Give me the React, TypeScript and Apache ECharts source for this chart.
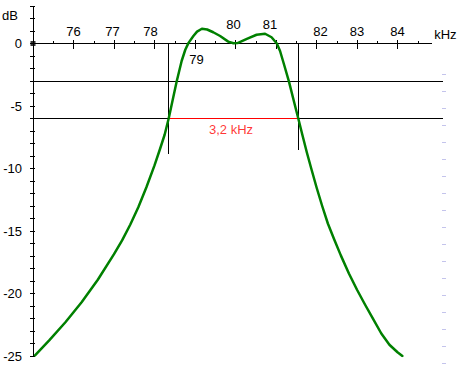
import React, { useEffect, useRef } from 'react';
import * as echarts from 'echarts';

// Filter response
const freqKHz = [
  75.05, 75.4, 75.8, 76.2, 76.6, 77.0, 77.2, 77.4, 77.6, 77.8, 78.0, 78.14, 78.25, 78.35,
  78.45, 78.55, 78.67, 78.76, 78.84, 78.96, 79.05, 79.17, 79.3, 79.45, 79.62, 79.82, 79.95,
  80.05, 80.28, 80.52, 80.73, 80.89, 81.02, 81.1, 81.2, 81.32, 81.44, 81.55, 81.65, 81.76,
  81.87, 82.0, 82.14, 82.28, 82.44, 82.6, 82.8, 83.0, 83.2, 83.4, 83.6, 83.8, 84.0, 84.12,
];
const gainDB = [
  -24.95, -23.75, -22.3, -20.7, -18.9, -16.85, -15.75, -14.5, -13.1, -11.5, -9.75, -8.4, -7.3, -6.0,
  -4.5, -3.0, -1.4, -0.5, 0.05, 0.6, 0.95, 1.18, 1.12, 0.9, 0.6, 0.15, 0.02,
  0.03, 0.37, 0.7, 0.78, 0.5, 0.0, -0.6, -1.7, -3.05, -4.6, -6.0, -7.3, -8.7,
  -10.0, -11.5, -13.0, -14.4, -15.7, -16.95, -18.4, -19.7, -20.9, -22.05, -23.2, -24.1, -24.7, -25.0,
];

const majorTicks = [75, 76, 77, 78, 79, 80, 81, 82, 83, 84];
const minorTicks = [75.5, 76.5, 77.5, 78.5, 79.5, 80.5, 81.5, 82.5, 83.5, 84.5];
const xTickLabels = [76, 77, 78, 80, 81, 82, 83, 84];
const xTickLabelsBelow = [79];
const xMin = 75;
const xMax = 84.844;
const refLineEnd = 85.12;
const yMin = -25;
const yMax = 3;
const refLevels = [-3, -6];
const bandEdges = [78.35, 81.55];
const bandEdgeBottoms = [-8.8, -8.5];
const bandLevel = -6;
const bandLabel = '3,2 kHz';
const bandLabelAt = [79.89, -6.9];
const sideMarks = 17;

// label nudges (style only)
const labelRich: Record<number, string> = { 77: 'l1', 78: 'l4', 80: 'u2', 81: 'u6', 82: 'r4' };

const FONT = 'Liberation Sans, Arial, sans-serif';
const CURVE_COLOR = '#008000';

export default function App() {
  const ref = useRef<HTMLDivElement>(null);
  useEffect(() => {
    if (!ref.current) return;
    const chart = echarts.init(ref.current, null, { renderer: 'svg' });
    const black = '#000';
    const curve = freqKHz.map((f, i) => [f, gainDB[i]]);
    const G = { left: 33, top: 6, width: 398.7, height: 350, outerBoundsMode: 'none', containLabel: false };
    const option: any = {
      animation: false,
      backgroundColor: '#fff',
      textStyle: { fontFamily: FONT },
      grid: [
        G,
        { ...G, width: 409.7 },
        { left: 446, top: 74.7, width: 10, height: 288.6, outerBoundsMode: 'none', containLabel: false },
        { ...G, top: 6 + (yMax / (yMax - yMin)) * 350, height: 1 },
      ],
      xAxis: [
        { type: 'value', gridIndex: 0, min: xMin, max: xMax, show: false },
        { type: 'value', gridIndex: 1, min: xMin, max: refLineEnd, show: false },
        { type: 'value', gridIndex: 2, min: 0, max: 1, show: false },
        {
          type: 'value', gridIndex: 3, min: xMin, max: xMax, position: 'top',
          axisLine: { show: true, onZero: false, lineStyle: { color: black, width: 1 } },
          axisTick: { show: true, length: 4, customValues: majorTicks, lineStyle: { color: black } },
          splitLine: { show: false },
          axisLabel: {
            customValues: xTickLabels, margin: 6, color: black, fontSize: 13, fontFamily: FONT,
            formatter: (v: number) => (labelRich[v] ? `{${labelRich[v]}|${v}}` : String(v)),
            rich: {
              l1: { padding: [0, 3, 0, 0] },
              l4: { padding: [0, 8, 0, 0] },
              u2: { padding: [0, 4, 7, 0] },
              u6: { padding: [0, 12, 7, 0] },
              r4: { padding: [0, 0, 0, 8] },
            },
          },
          name: 'kHz', nameLocation: 'end', nameGap: 2.5,
          nameTextStyle: { color: black, fontSize: 13, fontFamily: FONT, verticalAlign: 'bottom', padding: [0, 0, 3, 0] },
        },
        {
          type: 'value', gridIndex: 3, min: xMin, max: xMax, position: 'top',
          axisLine: { show: false, onZero: false },
          axisTick: { show: true, inside: true, length: 5, customValues: majorTicks, lineStyle: { color: black } },
          splitLine: { show: false },
          axisLabel: {
            inside: true, customValues: xTickLabelsBelow, margin: 9, color: black, fontSize: 13, fontFamily: FONT,
            formatter: (v: number) => `{r|${v}}`,
            rich: { r: { padding: [0, 0, 0, 3] } },
          },
        },
        {
          type: 'value', gridIndex: 3, min: xMin, max: xMax, position: 'top',
          axisLine: { show: false, onZero: false },
          axisTick: { show: true, length: 3, customValues: minorTicks, lineStyle: { color: black } },
          splitLine: { show: false },
          axisLabel: { show: false },
        },
      ],
      yAxis: [
        {
          type: 'value', gridIndex: 0, min: yMin, max: yMax, interval: 1, position: 'left',
          axisLine: { show: true, onZero: false, lineStyle: { color: black, width: 1 } },
          axisTick: { show: true, length: 3, lineStyle: { color: black } },
          splitLine: { show: false },
          axisLabel: {
            margin: 11, color: black, fontSize: 13, fontFamily: FONT,
            formatter: (v: number) => (v <= 0 && v % 5 === 0 ? String(v) : ''),
          },
          name: 'dB', nameLocation: 'end', nameGap: -9.5,
          nameTextStyle: { color: black, fontSize: 13, fontFamily: FONT, align: 'right', verticalAlign: 'middle', padding: [0, 15, 0, 0] },
        },
        {
          type: 'value', gridIndex: 0, min: yMin, max: yMax, interval: 1, position: 'left',
          axisLine: { show: false, onZero: false },
          axisTick: { show: true, inside: true, length: 2, lineStyle: { color: black } },
          splitLine: { show: false },
          axisLabel: { show: false },
        },
        { type: 'value', gridIndex: 1, min: yMin, max: yMax, show: false },
        {
          type: 'value', gridIndex: 2, min: 0, max: sideMarks, interval: 1, position: 'left',
          axisLine: { show: false, onZero: false },
          axisTick: { show: true, length: 4, lineStyle: { color: '#c4c4ec', width: 1 } },
          splitLine: { show: false },
          axisLabel: { show: false },
        },
        { type: 'value', gridIndex: 3, min: 0, max: 1, show: false },
      ],
      series: [
        ...refLevels.map((lv) => ({
          type: 'line', xAxisIndex: 1, yAxisIndex: 2, silent: true, symbol: 'none', z: 1,
          lineStyle: { color: black, width: 1 },
          data: [[xMin, lv], [refLineEnd, lv]],
        })),
        ...bandEdges.map((f, i) => ({
          type: 'line', xAxisIndex: 0, yAxisIndex: 0, silent: true, symbol: 'none', z: 2,
          lineStyle: { color: black, width: 1 },
          data: [[f, 0], [f, bandEdgeBottoms[i]]],
        })),
        {
          type: 'line', xAxisIndex: 0, yAxisIndex: 0, silent: true, symbol: 'none', z: 3,
          lineStyle: { color: '#ff0000', width: 1 },
          data: [[bandEdges[0], bandLevel], [bandEdges[1], bandLevel]],
        },
        {
          type: 'scatter', xAxisIndex: 0, yAxisIndex: 0, silent: true, symbolSize: 0, z: 3,
          data: [bandLabelAt],
          label: {
            show: true, position: 'inside', formatter: bandLabel, color: '#ff0000',
            fontSize: 13, fontFamily: FONT,
          },
        },
        {
          type: 'line', xAxisIndex: 0, yAxisIndex: 0, silent: true, symbol: 'none', z: 5,
          smooth: false,
          lineStyle: { color: CURVE_COLOR, width: 2.5, join: 'round', cap: 'round' },
          data: curve,
        },
        {
          type: 'scatter', xAxisIndex: 0, yAxisIndex: 0, silent: true, z: 6,
          symbol: 'rect', symbolSize: 5, itemStyle: { color: black },
          data: [[xMin, 0]],
        },
      ],
    };
    chart.setOption(option);
    return () => chart.dispose();
  }, []);
  const sel = ['#000', '#000000', 'rgb(0,0,0)', '#ff0000', 'rgb(255,0,0)', '#c4c4ec']
    .map((c) => `#filter-chart svg path[stroke="${c}"]`)
    .join(', ');
  const css = `${sel} { shape-rendering: crispEdges; }`;
  return (
    <>
      <style>{css}</style>
      <div
        id="filter-chart"
        ref={ref}
        style={{ position: 'fixed', left: 0, top: 0, width: 469, height: 370, background: '#fff' }}
      />
    </>
  );
}
